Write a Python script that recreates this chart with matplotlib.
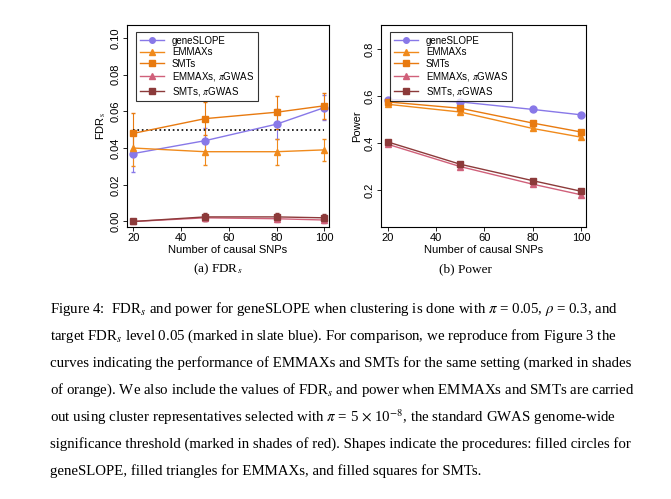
import numpy as np
import matplotlib
matplotlib.use("Agg")
import matplotlib.pyplot as plt
from matplotlib.lines import Line2D

plt.rcParams["font.family"] = ["Liberation Sans", "DejaVu Sans"]
plt.rcParams["mathtext.fontset"] = "stix"

n_causal = [20, 50, 80, 100]

fdr_gene = [0.037, 0.044, 0.053, 0.062]
fdr_gene_err = [0.010, 0.007, 0.008, 0.007]
fdr_emmax = [0.040, 0.038, 0.038, 0.039]
fdr_emmax_err = [0.010, 0.007, 0.007, 0.006]
fdr_smt = [0.048, 0.056, 0.0595, 0.063]
fdr_smt_err = [0.011, 0.009, 0.009, 0.007]
fdr_emmax_gwas = [0.0, 0.002, 0.0015, 0.0008]
fdr_emmax_gwas_err = [0.001, 0.002, 0.002, 0.0015]
fdr_smt_gwas = [0.0, 0.0025, 0.0025, 0.002]
fdr_smt_gwas_err = [0.001, 0.002, 0.002, 0.002]

pow_gene = [0.585, 0.575, 0.543, 0.520]
pow_emmax = [0.565, 0.532, 0.462, 0.425]
pow_smt = [0.575, 0.548, 0.485, 0.447]
pow_emmax_gwas = [0.395, 0.300, 0.225, 0.180]
pow_smt_gwas = [0.405, 0.310, 0.240, 0.195]
pow_err = 0.008

labels = ["geneSLOPE", "EMMAXs", "SMTs", r"EMMAXs, $\pi$GWAS", r"SMTs, $\pi$GWAS"]
colors = ["#8878E8", "#F08A1C", "#E87A10", "#D0607A", "#8C3A3A"]
markers = ["o", "^", "s", "^", "s"]

fig = plt.figure(figsize=(6.71, 4.99), dpi=100)
W, H = 671, 499
ax1 = fig.add_axes([127 / W, 1 - 227 / H, 202 / W, 202 / H])
ax2 = fig.add_axes([381 / W, 1 - 227 / H, 205 / W, 202 / H])

fdr_sets = [(fdr_gene, fdr_gene_err), (fdr_emmax, fdr_emmax_err), (fdr_smt, fdr_smt_err),
            (fdr_emmax_gwas, fdr_emmax_gwas_err), (fdr_smt_gwas, fdr_smt_gwas_err)]
pow_sets = [pow_gene, pow_emmax, pow_smt, pow_emmax_gwas, pow_smt_gwas]

for (y, e), c, m, lab in zip(fdr_sets, colors, markers, labels):
    ax1.errorbar(n_causal, y, yerr=e, color=c, marker=m, ms=5, lw=1,
                 elinewidth=0.8, capsize=1.5, label=lab)
ax1.plot([20, 100], [0.05, 0.05], ls=":", color="black", lw=1.2)
ax1.set_ylim(-0.003, 0.107)
ax1.set_yticks([0.0, 0.02, 0.04, 0.06, 0.08, 0.10])
ax1.set_yticklabels(["0.00", "0.02", "0.04", "0.06", "0.08", "0.10"])
ax1.set_ylabel(r"FDR$_\mathrm{s}$", fontsize=8, labelpad=2)

for y, c, m, lab in zip(pow_sets, colors, markers, labels):
    ax2.errorbar(n_causal, y, yerr=pow_err, color=c, marker=m, ms=5, lw=1,
                 elinewidth=0.8, capsize=1.5, label=lab)
ax2.set_ylim(0.043, 0.902)
ax2.set_yticks([0.2, 0.4, 0.6, 0.8])
ax2.set_ylabel("Power", fontsize=8, labelpad=2)

for ax in (ax1, ax2):
    ax.set_xlim(17.3, 102)
    ax.set_xticks([20, 40, 60, 80, 100])
    ax.set_xlabel("Number of causal SNPs", fontsize=8, labelpad=1)
    ax.tick_params(labelsize=8, length=3, width=0.6, pad=1.5)
    for t in ax.get_yticklabels():
        t.set_rotation(90)
        t.set_va("center")
    for s in ax.spines.values():
        s.set_linewidth(0.8)
    handles = [Line2D([], [], color=c, marker=m, ms=4, lw=1) for c, m in zip(colors, markers)]
    leg = ax.legend(handles, labels, loc="upper left", fontsize=7, frameon=True,
                    fancybox=False, edgecolor="black", borderpad=0.4, labelspacing=0.15,
                    handlelength=2.5, bbox_to_anchor=(0.02, 0.99))
    leg.get_frame().set_linewidth(0.8)

serif = ["Liberation Serif", "DejaVu Serif"]
fig.text(218 / W, 1 - 269 / H, r"(a) FDR$_s$", ha="center", va="center", fontsize=9.5, family=serif)
fig.text(465 / W, 1 - 269 / H, "(b) Power", ha="center", va="center", fontsize=9.5, family=serif)

caption = [
    r"Figure 4:  FDR$_s$ and power for geneSLOPE when clustering is done with $\pi$ = 0.05, $\rho$ = 0.3, and",
    r"target FDR$_s$ level 0.05 (marked in slate blue). For comparison, we reproduce from Figure 3 the",
    "curves indicating the performance of EMMAXs and SMTs for the same setting (marked in shades",
    r"of orange). We also include the values of FDR$_s$ and power when EMMAXs and SMTs are carried",
    r"out using cluster representatives selected with $\pi$ = 5 $\times$ 10$^{-8}$, the standard GWAS genome-wide",
    "significance threshold (marked in shades of red). Shapes indicate the procedures: filled circles for",
    "geneSLOPE, filled triangles for EMMAXs, and filled squares for SMTs.",
]
for i, line in enumerate(caption):
    fig.text(50 / W, 1 - (309 + 27 * i) / H, line, ha="left", va="center",
             fontsize=10.7, family=serif)

fig.savefig("out.png", dpi=100)
